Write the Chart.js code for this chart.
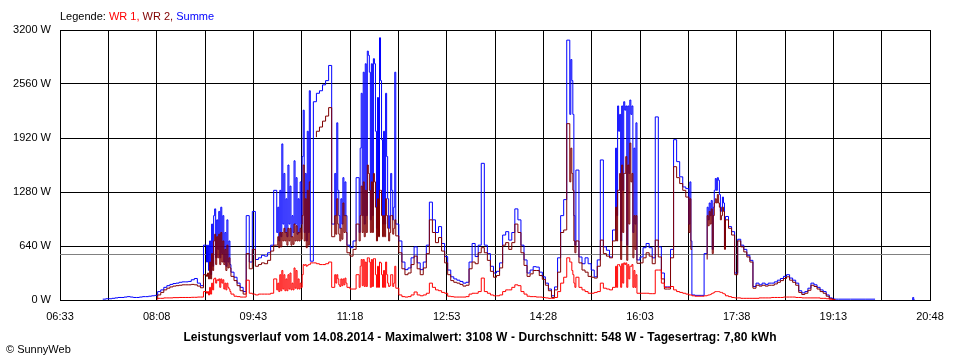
<!DOCTYPE html>
<html>
<head>
<meta charset="utf-8">
<script src="https://cdn.jsdelivr.net/npm/chart.js@4.4.1/dist/chart.umd.min.js"></script>
<style>
  body { margin: 0; background: #fff; }
  #wrap { position: relative; width: 960px; height: 360px; font-family: "Liberation Sans", Arial, sans-serif; color: #000; }
  #chart { position: absolute; left: 0; top: 0; }
  #legend { position: absolute; left: 60px; top: 10px; font-size: 11px; line-height: 13px; white-space: nowrap; }
  #title { position: absolute; left: 0; top: 330px; width: 960px; text-align: center; font-size: 12px; line-height: 14px; font-weight: bold; letter-spacing: 0.1px; white-space: nowrap; }
  #copy { position: absolute; left: 6px; top: 342px; font-size: 11px; line-height: 14px; }
</style>
</head>
<body>
<div id="wrap">
  <canvas id="chart" width="960" height="360"></canvas>
  <div id="legend">Legende: <span style="color:#ff0000">WR 1,</span> <span style="color:#800000">WR 2,</span> <span style="color:#0000ff">Summe</span></div>
  <div id="title">Leistungsverlauf vom 14.08.2014 - Maximalwert: 3108 W - Durchschnitt: 548 W - Tagesertrag: 7,80 kWh</div>
  <div id="copy">© SunnyWeb</div>
</div>
<script>
// x axis: 06:33 .. 20:48, grid every 47.5 min, label every 95 min
const tickLabels = ['06:33', '08:08', '09:43', '11:18', '12:53', '14:28', '16:03', '17:38', '19:13', '20:48'];
const yTicks = [0, 640, 1280, 1920, 2560, 3200];
const avgPower = 548;

// 3-minute readings
const times = [
  '07:06','07:09','07:12','07:15','07:18','07:21','07:24','07:27','07:30','07:33','07:36','07:39','07:42','07:45','07:48','07:51','07:54','07:57',
  '08:00','08:03','08:06','08:09','08:12','08:15','08:18','08:21','08:24','08:27','08:30','08:33','08:36','08:39','08:42','08:45','08:48','08:51','08:54','08:57',
  '09:00','09:03','09:06','09:09','09:12','09:15','09:18','09:21','09:24','09:27','09:30','09:33','09:36','09:39','09:42','09:45','09:48','09:51','09:54','09:57',
  '10:00','10:03','10:06','10:09','10:12','10:15','10:18','10:21','10:24','10:27','10:30','10:33','10:36','10:39','10:42','10:45','10:48','10:51','10:54','10:57',
  '11:00','11:03','11:06','11:09','11:12','11:15','11:18','11:21','11:24','11:27','11:30','11:33','11:36','11:39','11:42','11:45','11:48','11:51','11:54','11:57',
  '12:00','12:03','12:06','12:09','12:12','12:15','12:18','12:21','12:24','12:27','12:30','12:33','12:36','12:39','12:42','12:45','12:48','12:51','12:54','12:57',
  '13:00','13:03','13:06','13:09','13:12','13:15','13:18','13:21','13:24','13:27','13:30','13:33','13:36','13:39','13:42','13:45','13:48','13:51','13:54','13:57',
  '14:00','14:03','14:06','14:09','14:12','14:15','14:18','14:21','14:24','14:27','14:30','14:33','14:36','14:39','14:42','14:45','14:48','14:51','14:54','14:57',
  '15:00','15:03','15:06','15:09','15:12','15:15','15:18','15:21','15:24','15:27','15:30','15:33','15:36','15:39','15:42','15:45','15:48','15:51','15:54','15:57',
  '16:00','16:03','16:06','16:09','16:12','16:15','16:18','16:21','16:24','16:27','16:30','16:33','16:36','16:39','16:42','16:45','16:48','16:51','16:54','16:57',
  '17:00','17:03','17:06','17:09','17:12','17:15','17:18','17:21','17:24','17:27','17:30','17:33','17:36','17:39','17:42','17:45','17:48','17:51','17:54','17:57',
  '18:00','18:03','18:06','18:09','18:12','18:15','18:18','18:21','18:24','18:27','18:30','18:33','18:36','18:39','18:42','18:45','18:48','18:51','18:54','18:57',
  '19:00','19:03','19:06','19:09','19:12','19:15','19:18',
  '19:30','19:45','19:54','19:57','20:31','20:32','20:33'
];

// WR 1 (red)
const wr1 = [
  null,null,null,null,null,null,null,null,null,null,null,null,null,null,null,null,null,null,
  null,null,null,5,20,20,25,25,25,28,28,30,30,30,30,32,32,35,35,100,
  60,200,260,230,250,130,200,100,70,45,40,35,35,235,80,70,60,70,70,70,
  70,80,250,100,350,110,300,120,380,130,200,420,400,420,440,440,430,420,420,430,
  450,150,300,160,250,200,150,130,130,300,480,160,500,150,490,150,450,150,450,160,
  300,400,140,60,40,35,40,60,95,60,50,60,80,200,150,120,110,90,80,45,
  40,35,35,35,35,40,70,80,80,100,260,100,80,60,50,50,60,100,120,120,
  150,180,170,100,70,45,40,40,35,35,30,25,20,20,30,100,200,270,500,350,
  150,270,150,120,100,80,80,90,100,200,140,130,120,150,420,150,440,150,400,150,
  300,80,80,80,80,75,75,355,355,200,150,150,160,120,100,90,80,70,60,50,
  45,45,45,50,60,80,100,100,90,70,50,40,30,25,25,20,20,20,20,20,
  20,25,25,25,25,30,30,30,30,35,35,35,35,30,30,25,25,25,25,25,
  25,20,20,15,10,0,null,
  null,null,null,null,null,null,null
];

// WR 2 (dark red)
const wr2 = [
  null,null,null,null,null,null,null,null,null,null,null,null,null,null,null,null,null,null,
  null,null,null,10,60,90,120,140,155,165,170,175,180,180,180,185,180,165,145,300,
  250,550,780,500,800,420,650,380,280,230,170,110,70,550,370,600,400,420,440,430,
  470,580,650,620,800,700,850,650,900,700,850,1600,620,1400,null,1930,2000,2050,2120,2180,
  2280,750,1200,700,1150,800,560,520,600,900,1350,750,1600,800,1500,700,1300,750,1200,700,
  1000,950,760,560,370,300,320,420,520,370,300,380,550,950,800,680,740,580,440,300,
  230,210,200,185,165,175,370,450,430,560,620,560,470,340,270,290,380,650,680,600,
  680,900,800,560,410,280,310,350,350,290,245,175,110,30,120,330,800,830,2090,1500,
  560,700,440,355,330,280,270,260,400,710,550,520,500,700,1300,480,1500,470,1860,500,
  1000,435,440,500,560,520,430,710,510,250,130,130,500,1580,1450,1380,1300,1220,600,null,
  null,null,null,480,1050,550,1200,1150,1000,600,950,850,770,300,700,630,570,510,450,140,
  175,165,175,165,175,175,190,210,230,255,275,235,210,175,90,65,80,115,175,160,
  130,100,80,45,15,5,null,
  null,null,null,null,null,null,null
];

// Summe (blue)
const summe = [
  null,null,null,10,10,15,15,20,25,30,30,35,40,35,30,30,35,40,
  40,45,50,55,100,120,150,170,185,195,200,210,215,215,220,240,255,200,170,650,
  350,900,1080,600,1100,450,950,420,330,270,200,150,100,1000,450,1050,480,500,530,520,
  560,650,1300,700,1850,800,1600,750,1650,780,1400,2250,700,2480,460,2350,2450,2480,2550,2600,
  2780,900,2100,850,1450,1000,650,620,700,1450,2450,900,2950,950,2860,850,3108,900,2450,850,
  1300,2700,900,700,450,360,380,500,630,440,360,450,650,1160,950,800,870,670,515,355,
  275,250,235,220,200,210,450,670,515,650,1620,650,550,400,320,340,440,770,810,710,
  800,1080,950,650,475,320,355,395,390,330,275,200,130,50,155,500,1000,1190,3080,2600,
  650,1540,510,430,500,430,355,275,475,1660,630,590,510,830,2300,700,2350,650,2370,800,
  2100,475,510,620,670,620,500,2170,630,320,155,155,600,1900,1640,1460,1340,1320,700,60,
  55,55,55,550,1150,600,1440,1420,1100,630,990,870,810,320,720,650,600,530,470,160,
  200,180,200,185,200,200,215,235,255,280,300,260,235,200,110,85,100,140,200,180,
  150,120,100,60,25,12,10,
  10,10,10,null,0,30,0
];

// extra 1-minute readings inside the gusty periods
const denseTimes = [
  '08:58','08:59','09:01','09:02','09:04','09:05','09:07','09:08','09:10','09:11','09:13','09:14','09:16','09:17','09:19','09:20',
  '10:07','10:08','10:10','10:11','10:13','10:14','10:16','10:17','10:19','10:20','10:22','10:23','10:25','10:26','10:28','10:29','10:31','10:32','10:34','10:35','10:37','10:38',
  '11:04','11:05','11:07','11:08','11:10','11:11','11:13','11:14',
  '11:28','11:29','11:31','11:32','11:34','11:35','11:37','11:38','11:40','11:41','11:43','11:44','11:46','11:47','11:49','11:50','11:52','11:53','11:55','11:56','11:58','11:59','12:01','12:02',
  '14:55','14:56','14:58','14:59',
  '15:40','15:41','15:43','15:44','15:46','15:47','15:49','15:50','15:52','15:53','15:55','15:56','15:58','15:59',
  '16:52','16:53',
  '17:10','17:11','17:13','17:14','17:16','17:17','17:19','17:20','17:22','17:23','17:25','17:26'
];
const denseSumme = [
  450,650,700,300,400,1000,500,950,1050,500,550,1000,800,400,450,700,
  800,1100,1300,750,900,1500,1200,750,900,1350,1000,800,900,1450,1200,800,900,1700,800,1500,2000,800,
  1500,1000,1300,1000,1200,900,1000,1400,
  800,1800,1000,2700,2800,1000,2900,2700,2800,1000,2800,2000,2400,950,2600,1900,2000,900,1700,1200,1000,1500,950,1100,
  2200,2850,2200,1000,
  1800,1000,2000,2200,2300,1300,2250,2300,2300,1500,2200,2300,1800,900,
  900,1400,
  1100,950,1000,1180,1100,1300,1300,1450,1250,1050,1220,1150
];
const denseWr2 = [
  280,320,450,250,350,700,420,750,780,420,450,700,600,350,380,500,
  650,750,800,630,700,850,800,650,700,850,750,660,700,880,800,700,720,1000,700,1200,1300,650,
  1000,780,900,780,850,720,800,1000,
  700,1000,800,1400,1300,800,1500,1300,1400,800,1400,1100,1200,750,1300,1000,1000,750,1000,850,800,1000,780,850,
  1400,1800,1300,700,
  1100,700,1300,1500,1600,800,1500,1700,1600,900,1400,1500,1000,600,
  800,1200,
  1000,880,900,1080,1000,1150,1150,1250,1100,950,1100,1050
];
const denseWr1 = [
  80,100,150,70,120,250,200,240,250,150,200,240,200,120,150,130,
  120,200,300,110,130,300,250,110,130,320,200,120,140,350,250,130,150,300,410,420,410,420,
  300,200,250,180,250,170,180,260,
  150,400,170,480,450,160,500,450,480,160,490,300,400,150,440,300,350,150,300,200,170,300,160,200,
  450,450,300,200,
  400,150,420,400,430,200,420,440,420,250,400,420,350,150,
  60,60,
  55,60,65,75,85,95,100,100,95,90,80,75
];

const toMin = t => { const [h, m] = t.split(':').map(Number); return h * 60 + m; };
const xMin = toMin(tickLabels[0]);
const xMax = toMin(tickLabels[tickLabels.length - 1]);
const gridStep = (xMax - xMin) / ((tickLabels.length - 1) * 2);

const allTimes = times.concat(denseTimes);
const series = (vals, extra) => {
  const v = vals.concat(extra);
  return allTimes.map((t, i) => ({ x: toMin(t), y: v[i] })).sort((a, b) => a.x - b.x);
};

const FONT = '"Liberation Sans", Arial, sans-serif';

const avgLine = {
  id: 'avgLine',
  beforeDatasetsDraw(chart) {
    const { ctx, chartArea, scales } = chart;
    const y = Math.round(scales.y.getPixelForValue(avgPower)) + 0.5;
    ctx.save();
    ctx.strokeStyle = '#808080';
    ctx.lineWidth = 1;
    ctx.beginPath();
    ctx.moveTo(chartArea.left, y);
    ctx.lineTo(chartArea.right, y);
    ctx.stroke();
    ctx.restore();
  }
};

new Chart(document.getElementById('chart'), {
  type: 'line',
  data: {
    datasets: [
      { label: 'WR 1', data: series(wr1, denseWr1), borderColor: '#ff0000', order: 0 },
      { label: 'WR 2', data: series(wr2, denseWr2), borderColor: '#800000', order: 1 },
      { label: 'Summe', data: series(summe, denseSumme), borderColor: '#0000ff', order: 2 }
    ]
  },
  options: {
    responsive: false,
    animation: false,
    layout: { padding: { top: 30, right: 30, left: 0, bottom: 0 } },
    elements: {
      point: { radius: 0 },
      line: { borderWidth: 1, stepped: 'after', tension: 0 }
    },
    plugins: { legend: { display: false }, tooltip: { enabled: false } },
    scales: {
      x: {
        type: 'linear',
        min: xMin,
        max: xMax,
        afterBuildTicks: s => {
          s.ticks = [];
          for (let i = 0; i <= (tickLabels.length - 1) * 2; i++) s.ticks.push({ value: xMin + i * gridStep });
        },
        afterFit: s => { s.height = 60; },
        grid: { color: '#000', lineWidth: 1, drawTicks: false },
        border: { color: '#000' },
        ticks: {
          autoSkip: false,
          maxRotation: 0,
          padding: 10,
          color: '#000',
          font: { family: FONT, size: 11 },
          callback: (v, i) => (i % 2 === 0 ? tickLabels[i / 2] : '')
        }
      },
      y: {
        min: yTicks[0],
        max: yTicks[yTicks.length - 1],
        afterBuildTicks: s => { s.ticks = yTicks.map(v => ({ value: v })); },
        afterFit: s => { s.width = 60; },
        grid: { color: '#000', lineWidth: 1, drawTicks: false },
        border: { color: '#000' },
        ticks: {
          padding: 9,
          color: '#000',
          font: { family: FONT, size: 11 },
          callback: v => v + ' W'
        }
      }
    }
  },
  plugins: [avgLine]
});
</script>
</body>
</html>
